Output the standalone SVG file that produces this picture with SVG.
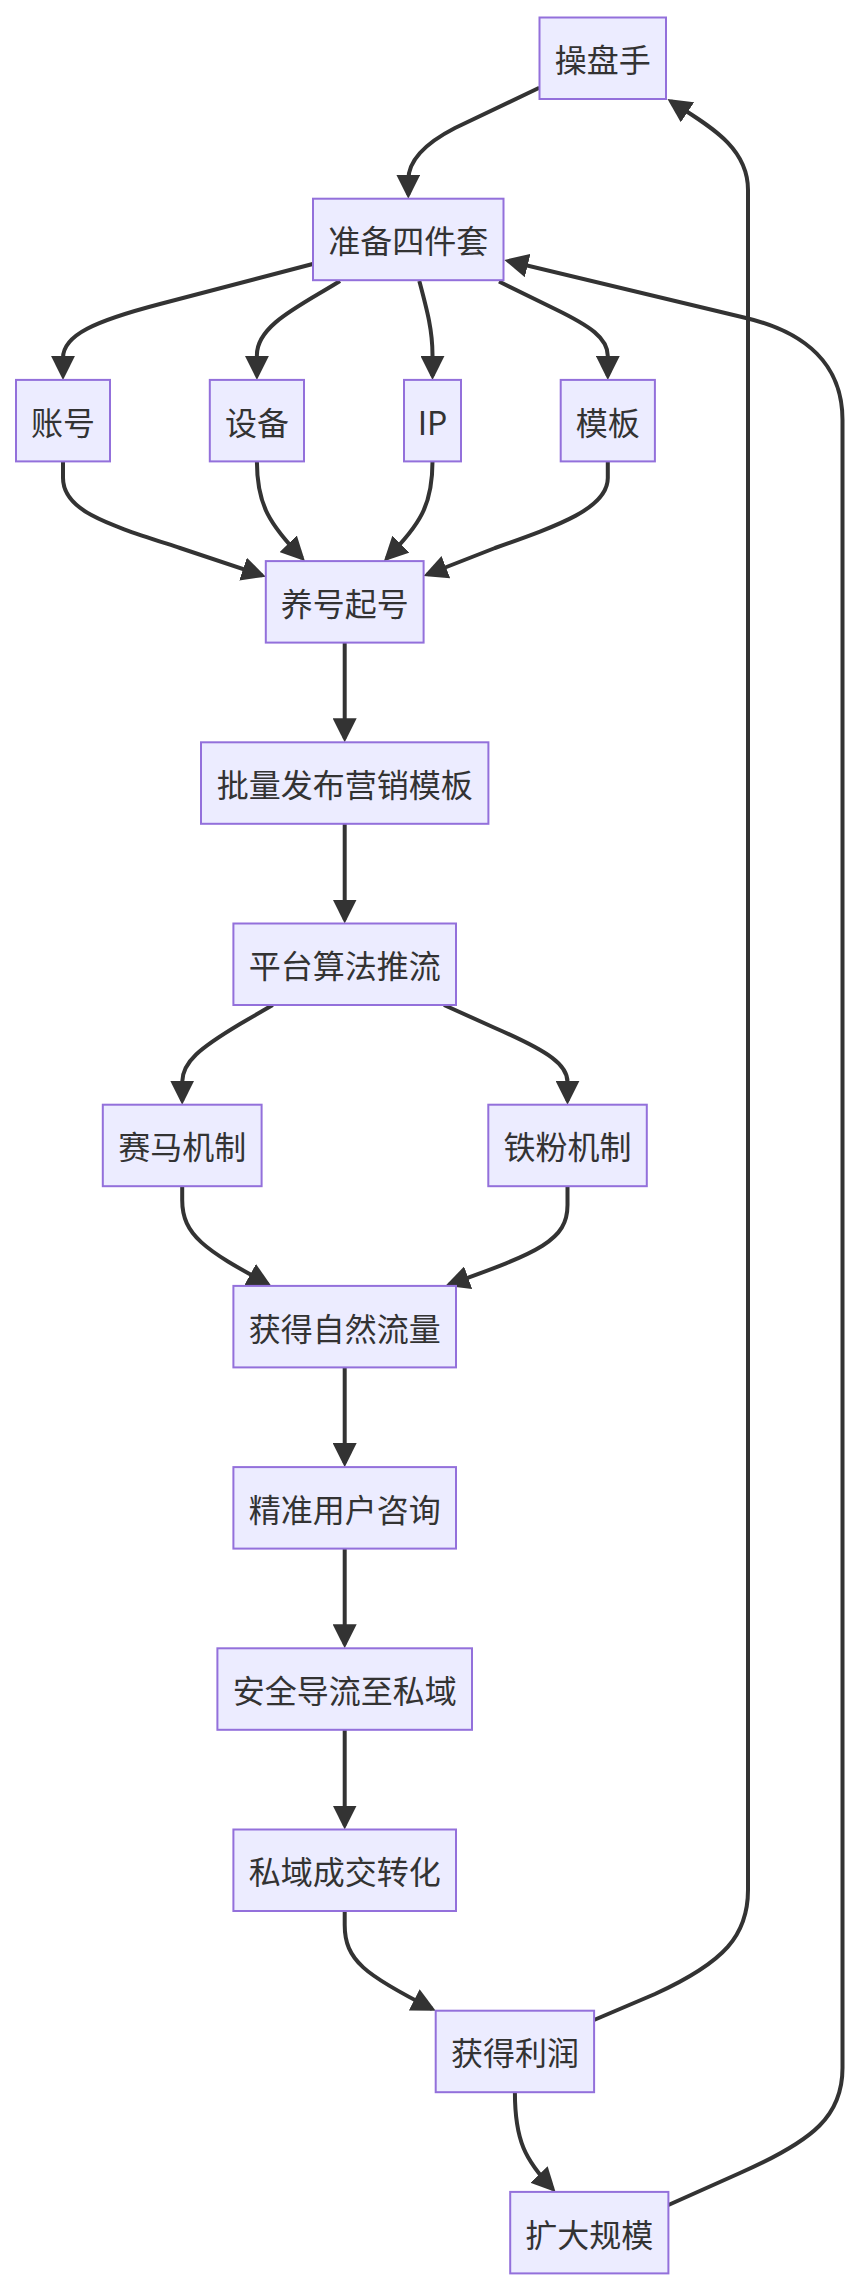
<svg xmlns="http://www.w3.org/2000/svg" width="860" height="2290" viewBox="0 0 860 2290">
<style>
.node rect{fill:#ECECFF;stroke:#9370DB;stroke-width:2}
.node text{font-family:"Noto Sans CJK SC","Noto Sans",sans-serif;font-size:32px;fill:#333;text-anchor:middle;dominant-baseline:central}
.edge{fill:none;stroke:#333;stroke-width:4;marker-end:url(#arrow)}
</style>
<defs>
<marker id="arrow" viewBox="0 0 10 10" refX="8.333" refY="5" markerUnits="userSpaceOnUse" markerWidth="24" markerHeight="24" orient="auto">
<path d="M0,0 L10,5 L0,10 z" fill="#333"/>
</marker>
</defs>
<rect width="860" height="2290" fill="#fff"/>
<g id="connectors">
<path class="edge" d="M539.3,87.7 L455,128 Q408.3,152 408.3,180 L408.3,194.7"/>
<path class="edge" d="M312.7,264 L160,304 C95,321 63,335 63,358 L63,375.9"/>
<path class="edge" d="M340,281 C300,306 256.9,325 256.9,355 L256.9,375.9"/>
<path class="edge" d="M419.3,281 C427,310 432.5,330 432.5,355 L432.5,375.9"/>
<path class="edge" d="M499,281.5 L555,309 C590,326 607.8,338 607.8,356 L607.8,375.9"/>
<path class="edge" d="M63,461.4 L63,478 C63,512 110,525 180,548 L262,575.4"/>
<path class="edge" d="M256.9,461.4 C256.9,505 270,525 302.1,558.2"/>
<path class="edge" d="M432.5,461.4 C432.5,505 420,525 386.7,558.3"/>
<path class="edge" d="M607.8,461.4 L607.8,478 C607.8,508 560,525 495,548 L427.3,574.5"/>
<path class="edge" d="M344.7,642.6 L344.7,738.3"/>
<path class="edge" d="M344.7,823.8 L344.7,919.5"/>
<path class="edge" d="M272.7,1005 L240,1024 C200,1048 182.2,1062 182.2,1082 L182.2,1100.7"/>
<path class="edge" d="M444,1005 L495,1028 C550,1052 567.5,1065 567.5,1082 L567.5,1100.7"/>
<path class="edge" d="M182.2,1186.2 L182.2,1200 C182.2,1235 205,1250 267.8,1284"/>
<path class="edge" d="M567.5,1186.2 L567.5,1205 C567.5,1240 540,1252 449.3,1284.5"/>
<path class="edge" d="M344.7,1367.4 L344.7,1463.1"/>
<path class="edge" d="M344.7,1548.6 L344.7,1644.3"/>
<path class="edge" d="M344.7,1729.8 L344.7,1825.5"/>
<path class="edge" d="M344.7,1911 L344.7,1925 C344.7,1960 365,1975 432.1,2008.9"/>
<path class="edge" d="M514.9,2092.2 C514.9,2140 525,2160 552.8,2189"/>
<path class="edge" d="M594,2020 L655,1994 C725,1962 748,1935 748,1890 L748,190 C748,145 705,124 670.8,101.2"/>
<path class="edge" d="M668.4,2205 L740,2173 C815,2140 842.5,2115 842.5,2068 L842.5,420 C842.5,365 806,332.4 746,318 L508.2,260.9"/>
</g>
<g id="n-caopanshou" class="node"><rect x="539.5" y="17.5" width="126.5" height="81.5"/><text x="602.75" y="58.25">操盘手</text></g>
<g id="n-zhunbei" class="node"><rect x="313" y="198.7" width="190.5" height="81.5"/><text x="408.25" y="239.45">准备四件套</text></g>
<g id="n-zhanghao" class="node"><rect x="16" y="379.9" width="94" height="81.5"/><text x="63" y="420.65">账号</text></g>
<g id="n-shebei" class="node"><rect x="209.8" y="379.9" width="94.2" height="81.5"/><text x="256.9" y="420.65">设备</text></g>
<g id="n-ip" class="node"><rect x="404" y="379.9" width="57" height="81.5"/><text x="432.5" y="420.65">IP</text></g>
<g id="n-muban" class="node"><rect x="560.7" y="379.9" width="94.2" height="81.5"/><text x="607.8" y="420.65">模板</text></g>
<g id="n-yanghao" class="node"><rect x="265.8" y="561.1" width="157.8" height="81.5"/><text x="344.7" y="601.85">养号起号</text></g>
<g id="n-piliang" class="node"><rect x="201" y="742.3" width="287.4" height="81.5"/><text x="344.7" y="783.05">批量发布营销模板</text></g>
<g id="n-pingtai" class="node"><rect x="233.4" y="923.5" width="222.6" height="81.5"/><text x="344.7" y="964.25">平台算法推流</text></g>
<g id="n-saima" class="node"><rect x="102.8" y="1104.7" width="158.8" height="81.5"/><text x="182.2" y="1145.45">赛马机制</text></g>
<g id="n-tiefen" class="node"><rect x="488.3" y="1104.7" width="158.5" height="81.5"/><text x="567.55" y="1145.45">铁粉机制</text></g>
<g id="n-ziran" class="node"><rect x="233.4" y="1285.9" width="222.6" height="81.5"/><text x="344.7" y="1326.65">获得自然流量</text></g>
<g id="n-jingzhun" class="node"><rect x="233.4" y="1467.1" width="222.6" height="81.5"/><text x="344.7" y="1507.85">精准用户咨询</text></g>
<g id="n-daoliu" class="node"><rect x="217.4" y="1648.3" width="254.6" height="81.5"/><text x="344.7" y="1689.05">安全导流至私域</text></g>
<g id="n-chengjiao" class="node"><rect x="233.4" y="1829.5" width="222.6" height="81.5"/><text x="344.7" y="1870.25">私域成交转化</text></g>
<g id="n-lirun" class="node"><rect x="435.7" y="2010.7" width="158.4" height="81.5"/><text x="514.9" y="2051.45">获得利润</text></g>
<g id="n-kuoda" class="node"><rect x="510.2" y="2191.9" width="158.2" height="81.5"/><text x="589.3" y="2232.65">扩大规模</text></g>
</svg>
